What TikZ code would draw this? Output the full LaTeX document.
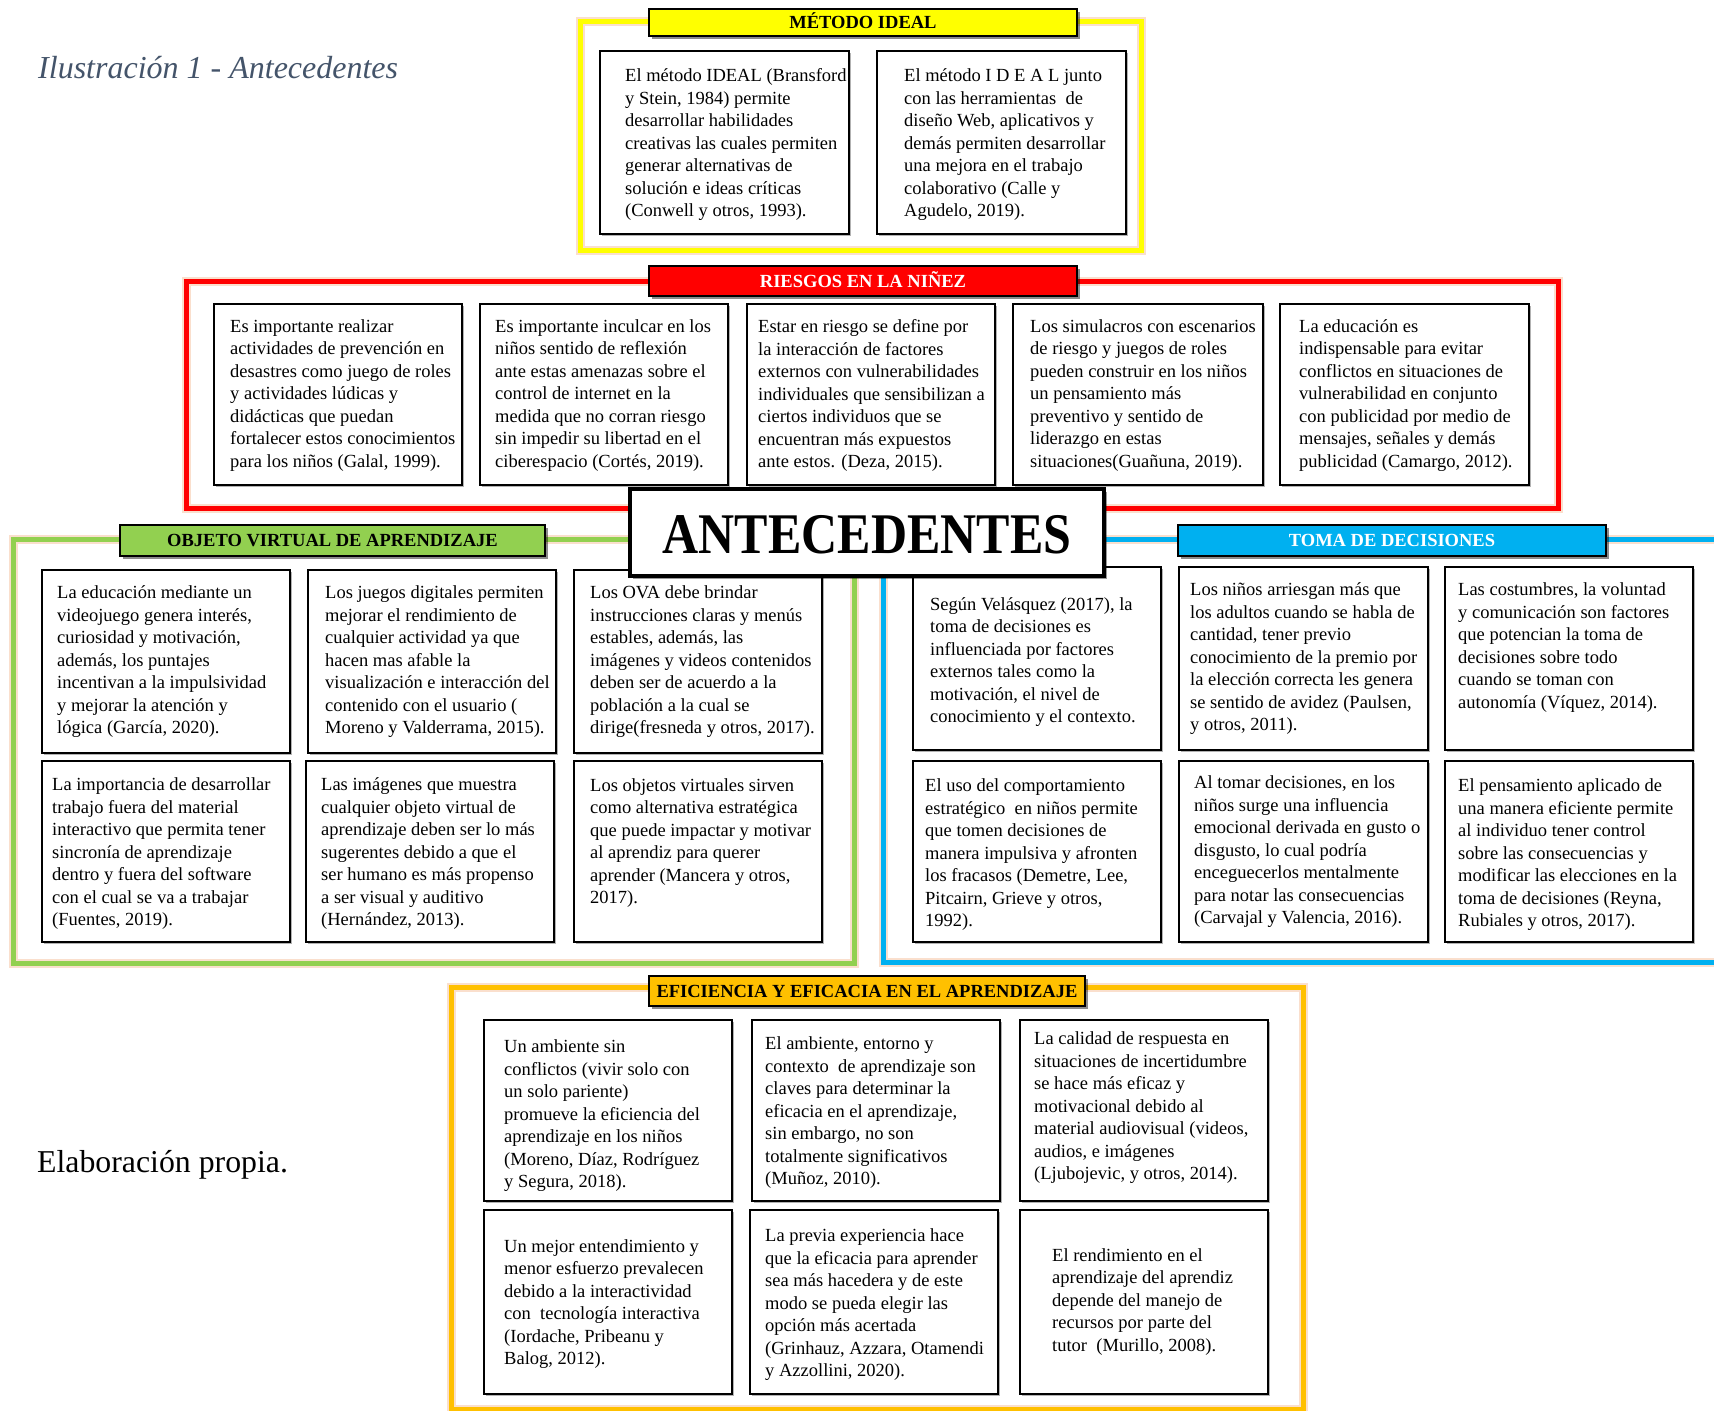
\documentclass[tikz,border=0pt]{standalone}
\usepackage{fontspec}
\usepackage{graphicx}
\setmainfont{Liberation Serif}
\usetikzlibrary{shadows}
\definecolor{cYel}{HTML}{FFFF00}
\definecolor{cRed}{HTML}{FF0000}
\definecolor{cGrn}{HTML}{92D050}
\definecolor{cBlu}{HTML}{00B0F0}
\definecolor{cGld}{HTML}{FFC000}
\definecolor{glowc}{HTML}{F4B183}
\definecolor{titlec}{HTML}{44546A}
\newcommand{\cardbox}[5]{\node[cardbox, anchor=north west, minimum width={#4-#2}, minimum height={#5-#3}] (#1) at (#2,#3) {};}
\tikzset{
  secframe/.style={draw=#1, line width=5pt, preaction={draw=glowc, line width=9pt, opacity=0.4}},
  sectitle/.style={draw=black, line width=2.2pt, fill=#1, inner sep=0pt, outer sep=0pt,
    text height=12.2pt, text depth=0pt,
    font=\fontsize{18.5}{22}\selectfont\bfseries,
    drop shadow={shadow xshift=2.5pt, shadow yshift=-2.5pt, opacity=0.45, fill=black}},
  cardbox/.style={draw=black, line width=2.2pt, fill=white, inner sep=0pt, outer sep=0pt,
    drop shadow={shadow xshift=2pt, shadow yshift=-2pt, opacity=0.3, fill=black}},
  cardtext/.style={inner sep=0pt, align=left, anchor=west, yshift=-2pt, font=\fontsize{18.5}{22.5}\selectfont},
}
\begin{document}
\begin{tikzpicture}[x=1pt,y=-1pt]
\path[use as bounding box, clip] (0,0) rectangle (1714,1411);
\fill[white] (0,0) rectangle (1714,1411);

% caption texts
\node[anchor=base west, inner sep=0pt, text=titlec, font=\fontsize{32}{36}\selectfont\itshape] (illu) at (38,78) {Ilustración 1 - Antecedentes};
\node[anchor=base west, inner sep=0pt, font=\fontsize{31.8}{36}\selectfont] (elab) at (37,1172) {Elaboración propia.};

% ---------------- MÉTODO IDEAL ----------------
\draw[secframe=cYel] (580,21) rectangle (1141,250);
\node[sectitle=cYel, minimum width=428, minimum height=27] (tMet) at (863,22.5) {MÉTODO IDEAL};
\cardbox{bMetA}{600}{51}{849}{234}
\cardbox{bMetB}{877}{51}{1126}{234}
\node[cardtext] (xMetA) at (625,142.7) {El método IDEAL (Bransford\\y Stein, 1984) permite\\desarrollar habilidades\\creativas las cuales permiten\\generar alternativas de\\solución e ideas críticas\\(Conwell y otros, 1993).};
\node[cardtext] (xMetB) at (904,142.7) {El método I D E A L junto\\con las herramientas\ \ de\\diseño Web, aplicativos y\\demás permiten desarrollar\\una mejora en el trabajo\\colaborativo (Calle y\\Agudelo, 2019).};

% ---------------- RIESGOS ----------------
\draw[secframe=cRed] (186,281) rectangle (1558,508);
\node[sectitle=cRed, text=white, minimum width=428, minimum height=30] (tRie) at (863,281) {RIESGOS EN LA NIÑEZ};
\cardbox{bRieA}{214}{304}{462}{485}
\cardbox{bRieB}{480}{304}{728}{485}
\cardbox{bRieC}{747}{304}{995}{485}
\cardbox{bRieD}{1013}{304}{1263}{485}
\cardbox{bRieE}{1280}{304}{1529}{485}
\node[cardtext] (xRieA) at (230,393.5) {Es importante realizar\\actividades de prevención en\\desastres como juego de roles\\y actividades lúdicas y\\didácticas que puedan\\fortalecer estos conocimientos\\para los niños (Galal, 1999).};
\node[cardtext] (xRieB) at (495,393.5) {Es importante inculcar en los\\niños sentido de reflexión\\ante estas amenazas sobre el\\control de internet en la\\medida que no corran riesgo\\sin impedir su libertad en el\\ciberespacio (Cortés, 2019).};
\node[cardtext] (xRieC) at (758,393.5) {Estar en riesgo se define por\\la interacción de factores\\externos con vulnerabilidades\\individuales que sensibilizan a\\ciertos individuos que se\\encuentran más expuestos\\ante estos. (Deza, 2015).};
\node[cardtext] (xRieD) at (1030,393.5) {Los simulacros con escenarios\\de riesgo y juegos de roles\\pueden construir en los niños\\un pensamiento más\\preventivo y sentido de\\liderazgo en estas\\situaciones(Guañuna, 2019).};
\node[cardtext] (xRieE) at (1299,393.5) {La educación es\\indispensable para evitar\\conflictos en situaciones de\\vulnerabilidad en conjunto\\con publicidad por medio de\\mensajes, señales y demás\\publicidad (Camargo, 2012).};

% ---------------- OBJETO VIRTUAL ----------------
\draw[secframe=cGrn] (13,539) rectangle (854,963);
\node[sectitle=cGrn, minimum width=425, minimum height=31] (tOva) at (332.5,540.5) {OBJETO VIRTUAL DE APRENDIZAJE};
\cardbox{bOvaA}{42}{570}{290}{753}
\cardbox{bOvaB}{308}{570}{556}{753}
\cardbox{bOvaC}{574}{570}{822}{753}
\cardbox{bOvaD}{42}{761}{290}{942}
\cardbox{bOvaE}{306}{761}{554}{942}
\cardbox{bOvaF}{574}{761}{822}{942}
\node[cardtext] (xOvaA) at (57,660) {La educación mediante un\\videojuego genera interés,\\curiosidad y motivación,\\además, los puntajes\\incentivan a la impulsividad\\y mejorar la atención y\\lógica (García, 2020).};
\node[cardtext] (xOvaB) at (325,660) {Los juegos digitales permiten\\mejorar el rendimiento de\\cualquier actividad ya que\\hacen mas afable la\\visualización e interacción del\\contenido con el usuario (\\Moreno y Valderrama, 2015).};
\node[cardtext] (xOvaC) at (590,660) {Los OVA debe brindar\\instrucciones claras y menús\\estables, además, las\\imágenes y videos contenidos\\deben ser de acuerdo a la\\población a la cual se\\dirige(fresneda y otros, 2017).};
\node[cardtext] (xOvaD) at (52,852) {La importancia de desarrollar\\trabajo fuera del material\\interactivo que permita tener\\sincronía de aprendizaje\\dentro y fuera del software\\con el cual se va a trabajar\\(Fuentes, 2019).};
\node[cardtext] (xOvaE) at (321,852) {Las imágenes que muestra\\cualquier objeto virtual de\\aprendizaje deben ser lo más\\sugerentes debido a que el\\ser humano es más propenso\\a ser visual y auditivo\\(Hernández, 2013).};
\node[cardtext] (xOvaF) at (590,841) {Los objetos virtuales sirven\\como alternativa estratégica\\que puede impactar y motivar\\al aprendiz para querer\\aprender (Mancera y otros,\\2017).};

% ---------------- TOMA DE DECISIONES ----------------
\draw[secframe=cBlu] (883,539) rectangle (1740,962);
\node[sectitle=cBlu, text=white, minimum width=428, minimum height=31] (tTom) at (1392,540.5) {TOMA DE DECISIONES};
\cardbox{bTomA}{913}{567}{1161}{750}
\cardbox{bTomB}{1179}{567}{1428}{750}
\cardbox{bTomC}{1445}{567}{1693}{750}
\cardbox{bTomD}{913}{761}{1161}{942}
\cardbox{bTomE}{1179}{761}{1428}{942}
\cardbox{bTomF}{1445}{761}{1693}{942}
\node[cardtext] (xTomA) at (930,660) {Según Velásquez (2017), la\\toma de decisiones es\\influenciada por factores\\externos tales como la\\motivación, el nivel de\\conocimiento y el contexto.};
\node[cardtext] (xTomB) at (1190,657) {Los niños arriesgan más que\\los adultos cuando se habla de\\cantidad, tener previo\\conocimiento de la premio por\\la elección correcta les genera\\se sentido de avidez (Paulsen,\\y otros, 2011).};
\node[cardtext] (xTomC) at (1458,645.5) {Las costumbres, la voluntad\\y comunicación son factores\\que potencian la toma de\\decisiones sobre todo\\cuando se toman con\\autonomía (Víquez, 2014).};
\node[cardtext] (xTomD) at (925,852.6) {El uso del comportamiento\\estratégico\ \ en niños permite\\que tomen decisiones de\\manera impulsiva y afronten\\los fracasos (Demetre, Lee,\\Pitcairn, Grieve y otros,\\1992).};
\node[cardtext] (xTomE) at (1194,850) {Al tomar decisiones, en los\\niños surge una influencia\\emocional derivada en gusto o\\disgusto, lo cual podría\\enceguecerlos mentalmente\\para notar las consecuencias\\(Carvajal y Valencia, 2016).};
\node[cardtext] (xTomF) at (1458,852.6) {El pensamiento aplicado de\\una manera eficiente permite\\al individuo tener control\\sobre las consecuencias y\\modificar las elecciones en la\\toma de decisiones (Reyna,\\Rubiales y otros, 2017).};

% ---------------- EFICIENCIA ----------------
\draw[secframe=cGld] (451,987) rectangle (1303,1409);
\node[sectitle=cGld, minimum width=436, minimum height=30] (tEfi) at (867,991) {EFICIENCIA Y EFICACIA EN EL APRENDIZAJE};
\cardbox{bEfiA}{484}{1020}{732}{1201}
\cardbox{bEfiB}{752}{1020}{1000}{1201}
\cardbox{bEfiC}{1020}{1020}{1268}{1201}
\cardbox{bEfiD}{484}{1210}{732}{1394}
\cardbox{bEfiE}{750}{1210}{998}{1394}
\cardbox{bEfiF}{1020}{1210}{1268}{1394}
\node[cardtext] (xEfiA) at (504,1114) {Un ambiente sin\\conflictos (vivir solo con\\un solo pariente)\\promueve la eficiencia del\\aprendizaje en los niños\\(Moreno, Díaz, Rodríguez\\y Segura, 2018).};
\node[cardtext] (xEfiB) at (765,1111) {El ambiente, entorno y\\contexto\ \ de aprendizaje son\\claves para determinar la\\eficacia en el aprendizaje,\\sin embargo, no son\\totalmente significativos\\(Muñoz, 2010).};
\node[cardtext] (xEfiC) at (1034,1106) {La calidad de respuesta en\\situaciones de incertidumbre\\se hace más eficaz y\\motivacional debido al\\material audiovisual (videos,\\audios, e imágenes\\(Ljubojevic, y otros, 2014).};
\node[cardtext] (xEfiD) at (504,1302) {Un mejor entendimiento y\\menor esfuerzo prevalecen\\debido a la interactividad\\con\ \ tecnología interactiva\\(Iordache, Pribeanu y\\Balog, 2012).};
\node[cardtext] (xEfiE) at (765,1303) {La previa experiencia hace\\que la eficacia para aprender\\sea más hacedera y de este\\modo se pueda elegir las\\opción más acertada\\(Grinhauz, Azzara, Otamendi\\y Azzollini, 2020).};
\node[cardtext] (xEfiF) at (1052,1300) {El rendimiento en el\\aprendizaje del aprendiz\\depende del manejo de\\recursos por parte del\\tutor\ \ (Murillo, 2008).};

% ---------------- CENTRE ----------------
\node[draw=black, line width=4.5pt, fill=white, inner sep=0pt, outer sep=0pt,
  minimum width=474, minimum height=87,
  drop shadow={shadow xshift=3pt, shadow yshift=-3pt, opacity=0.4, fill=black}] (cBox) at (867,532.5) {};
\node[inner sep=0pt, font=\fontsize{50}{56}\selectfont\bfseries] (cTxt) at (867,535) {\scalebox{1}[1.15]{ANTECEDENTES}};
\end{tikzpicture}
\end{document}
